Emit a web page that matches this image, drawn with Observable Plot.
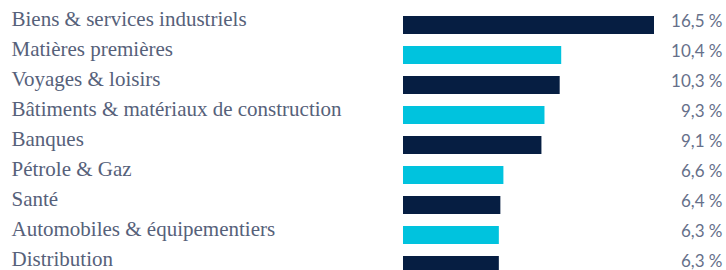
<!DOCTYPE html>
<html>
<head>
<meta charset="utf-8">
<script src="https://cdn.jsdelivr.net/npm/d3@7"></script>
<script src="https://cdn.jsdelivr.net/npm/@observablehq/plot@0.6"></script>
<style>
  html, body { margin: 0; padding: 0; background: #ffffff; }
  #chart svg { display: block; }
</style>
</head>
<body>
<div id="chart"></div>
<script>
const categories = [
  "Biens & services industriels",
  "Matières premières",
  "Voyages & loisirs",
  "Bâtiments & matériaux de construction",
  "Banques",
  "Pétrole & Gaz",
  "Santé",
  "Automobiles & équipementiers",
  "Distribution"
];
const values = [16.5, 10.4, 10.3, 9.3, 9.1, 6.6, 6.4, 6.3, 6.3];
const valueLabels = ["16,5 %", "10,4 %", "10,3 %", "9,3 %", "9,1 %", "6,6 %", "6,4 %", "6,3 %", "6,3 %"];
const groups = ["a", "b", "a", "b", "a", "b", "a", "b", "a"];

const data = categories.map((c, i) => ({name: c, value: values[i], label: valueLabels[i], group: groups[i]}));

const chart = Plot.plot({
  width: 726,
  height: 270,
  marginTop: 10,
  marginBottom: -10,
  marginLeft: 0,
  marginRight: 0,
  x: {domain: [0, 16.5], range: [403, 654], axis: null},
  y: {domain: categories, paddingInner: 0.4, paddingOuter: 0.2, axis: null},
  color: {domain: ["a", "b"], range: ["#061e42", "#00c3de"]},
  style: {background: "#ffffff"},
  marks: [
    Plot.barX(data, {x: "value", y: "name", fill: "group"}),
    Plot.text(data, {
      y: "name", text: "name", frameAnchor: "left", textAnchor: "start",
      dx: 11, dy: -6, fontSize: 21, fontFamily: "Liberation Serif", fill: "#56617a"
    }),
    Plot.text(data, {
      y: "name", text: "label", frameAnchor: "right", textAnchor: "end",
      dx: -4, dy: -4, fontSize: 17, fontFamily: "Lato", fill: "#66708a"
    })
  ]
});
document.getElementById("chart").appendChild(chart);
</script>
</body>
</html>
